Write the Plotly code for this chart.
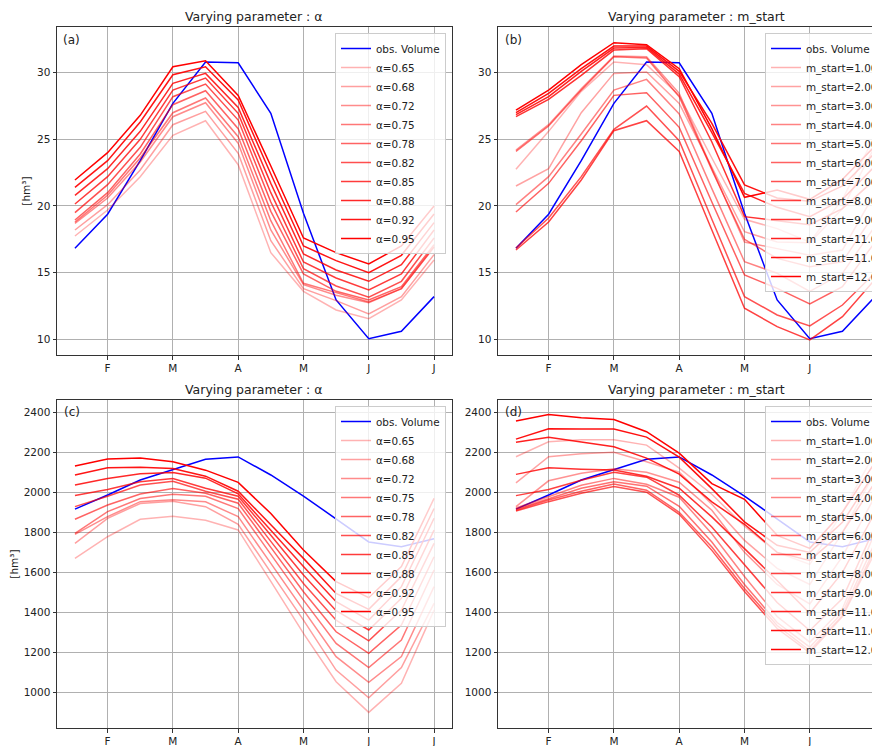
import plotly.graph_objects as go

# half-month time steps (mid Jan .. Jul)
steps = list(range(12))
month_ticks = [1, 3, 5, 7, 9, 11]
month_labels = ["F", "M", "A", "M", "J", "J"]

# observed series
obs_top = [16.83, 19.38, 23.4, 27.7, 30.8, 30.75, 26.95, 19.45, 12.95, 10.05, 10.6, 13.2]
obs_bottom = [1916, 1986, 2061, 2114, 2164, 2176, 2086, 1981, 1865, 1752, 1728, 1768]

alpha_values = ["0.65", "0.68", "0.72", "0.75", "0.78", "0.82", "0.85", "0.88", "0.92", "0.95"]
m_start_values = ["1.00", "2.00", "3.00", "4.00", "5.00", "6.00", "7.00", "8.00", "9.00", "11.00", "11.00", "12.00"]

# (a) varying alpha, top variable
sim_a = [
    [17.75, 19.7, 22.2, 25.3, 26.4, 23.1, 16.5, 13.6, 12.2, 11.55, 12.95, 15.95],
    [18.2, 20.1, 22.7, 26.1, 27.1, 23.95, 17.4, 13.8, 12.9, 11.9, 13.2, 16.35],
    [18.7, 20.6, 23.3, 26.7, 27.75, 24.7, 18.2, 14.1, 13.3, 12.75, 13.8, 16.9],
    [18.8, 20.8, 23.6, 27.0, 28.1, 25.2, 18.9, 14.2, 13.5, 12.8, 13.8, 16.95],
    [18.95, 21.0, 23.9, 27.6, 28.65, 25.8, 19.6, 14.9, 13.6, 12.95, 13.95, 17.1],
    [19.5, 21.6, 24.4, 28.2, 29.15, 26.45, 20.3, 15.3, 14.0, 13.15, 14.35, 17.6],
    [20.15, 22.2, 25.0, 28.7, 29.6, 26.95, 21.0, 15.8, 14.6, 13.7, 14.9, 18.2],
    [20.8, 22.8, 25.6, 29.2, 29.95, 27.4, 21.7, 16.4, 15.2, 14.35, 15.6, 18.75],
    [21.4, 23.4, 26.3, 29.85, 30.45, 27.95, 22.4, 17.0, 15.9, 15.0, 16.3, 19.4],
    [21.95, 24.0, 26.8, 30.45, 30.9, 28.3, 23.0, 17.6, 16.5, 15.65, 17.0, 20.0],
]

# (b) varying m_start, top variable
sim_b = [
    [22.75, 25.6, 28.6, 30.8, 30.6, 28.3, 23.6, 19.0, 18.3, 17.3, 20.5, 25.3],
    [21.5, 22.8, 27.0, 29.95, 30.05, 27.7, 22.9, 18.07, 17.3, 17.25, 19.8, 24.5],
    [24.2, 26.1, 28.8, 31.25, 31.2, 28.45, 22.8, 17.3, 16.8, 16.3, 16.7, 21.0],
    [20.1, 22.2, 25.4, 28.7, 29.5, 26.9, 21.3, 15.82, 14.95, 13.6, 14.95, 18.5],
    [24.1, 26.0, 28.7, 31.2, 31.1, 28.2, 22.7, 17.5, 16.07, 15.45, 15.82, 19.5],
    [19.55, 21.7, 24.9, 28.3, 28.5, 25.9, 20.3, 14.82, 13.82, 12.65, 13.95, 17.3],
    [16.85, 19.1, 22.2, 25.75, 27.5, 24.9, 19.0, 13.2, 11.82, 11.0, 12.57, 15.0],
    [16.7, 18.8, 21.95, 25.65, 26.4, 24.1, 18.2, 12.33, 10.95, 9.95, 11.7, 14.5],
    [26.7, 28.0, 29.8, 31.7, 31.8, 29.7, 24.8, 19.2, 18.9, 18.6, 19.8, 22.0],
    [26.85, 28.2, 30.1, 31.85, 31.9, 29.9, 25.5, 20.95, 19.9, 19.2, 20.5, 23.0],
    [27.0, 28.45, 30.3, 32.0, 32.0, 30.1, 26.2, 21.58, 20.6, 20.35, 21.5, 24.0],
    [27.2, 28.7, 30.6, 32.25, 32.1, 30.3, 25.8, 20.65, 21.2, 20.5, 22.0, 24.5],
]

# (c) varying alpha, bottom variable
sim_c = [
    [1670, 1778, 1865, 1880, 1860, 1812, 1555, 1296, 1055, 902, 1047, 1412],
    [1745, 1870, 1944, 1955, 1928, 1840, 1600, 1362, 1113, 975, 1125, 1446],
    [1790, 1878, 1953, 1962, 1952, 1878, 1645, 1412, 1180, 1052, 1180, 1529],
    [1795, 1903, 1969, 1990, 1980, 1918, 1690, 1462, 1246, 1125, 1263, 1612],
    [1865, 1936, 1991, 2018, 1995, 1945, 1725, 1504, 1304, 1196, 1338, 1678],
    [1928, 1980, 2036, 2055, 2005, 1965, 1755, 1545, 1362, 1259, 1412, 1745],
    [1984, 2014, 2052, 2068, 2020, 1980, 1785, 1587, 1409, 1313, 1471, 1811],
    [2036, 2069, 2092, 2098, 2070, 1992, 1810, 1629, 1454, 1362, 1529, 1870],
    [2086, 2122, 2124, 2118, 2080, 2005, 1838, 1670, 1495, 1416, 1579, 1919],
    [2131, 2166, 2171, 2152, 2110, 2049, 1894, 1712, 1554, 1474, 1629, 1969],
]

# (d) varying m_start, bottom variable
sim_d = [
    [2177, 2252, 2262, 2262, 2235, 2120, 1990, 1830, 1700, 1640, 1900, 2200],
    [2047, 2177, 2192, 2199, 2152, 2100, 1940, 1760, 1620, 1540, 1800, 2100],
    [1928, 2057, 2095, 2117, 2100, 2050, 1910, 1700, 1540, 1443, 1680, 1980],
    [1921, 1978, 2035, 2069, 2040, 1975, 1793, 1580, 1380, 1252, 1420, 1800],
    [1915, 1969, 2020, 2052, 2030, 1930, 1752, 1540, 1350, 1227, 1400, 1750],
    [1910, 1961, 2005, 2041, 2010, 1900, 1727, 1520, 1335, 1210, 1385, 1720],
    [1906, 1953, 1995, 2028, 2000, 1890, 1710, 1505, 1320, 1200, 1380, 1700],
    [1983, 2014, 2060, 2099, 2075, 1985, 1827, 1640, 1450, 1310, 1470, 1830],
    [2089, 2122, 2115, 2111, 2080, 2020, 1877, 1720, 1560, 1396, 1600, 1900],
    [2249, 2274, 2250, 2227, 2170, 2090, 1952, 1840, 1700, 1660, 1800, 2050],
    [2265, 2317, 2315, 2315, 2275, 2175, 2018, 1852, 1735, 1700, 1850, 2100],
    [2355, 2388, 2372, 2363, 2302, 2195, 2043, 1965, 1785, 1720, 1900, 2150],
]

FONT = "DejaVu Sans"

# the page puts the figure 8px in from the top-left corner
OFF = 8
W, H = 880 - OFF, 746 - OFF


def px(x):
    return (x - OFF) / W


def py(y):
    return 1 - (y - OFF) / H


fig = go.Figure()

panels = [
    ("x", "y", "legend", obs_top, sim_a, "α=", alpha_values),
    ("x2", "y2", "legend2", obs_top, sim_b, "m_start=", m_start_values),
    ("x3", "y3", "legend3", obs_bottom, sim_c, "α=", alpha_values),
    ("x4", "y4", "legend4", obs_bottom, sim_d, "m_start=", m_start_values),
]

for xa, ya, leg, obs, sims, prefix, labels in panels:
    fig.add_trace(go.Scatter(x=steps, y=obs, mode="lines", name="obs. Volume",
                             line=dict(color="#0000ff", width=1.5),
                             xaxis=xa, yaxis=ya, legend=leg))
    n = len(sims)
    for i, (vals, lab) in enumerate(zip(sims, labels)):
        a = 0.3 + 0.7 * i / (n - 1)
        fig.add_trace(go.Scatter(x=steps, y=vals, mode="lines", name=prefix + lab,
                                 line=dict(color="rgba(255,0,0,%.3f)" % a, width=1.5),
                                 xaxis=xa, yaxis=ya, legend=leg))

ax = dict(showline=True, linecolor="#333333", linewidth=1, ticks="outside", ticklen=3.5,
          tickcolor="#333333", showgrid=True, gridcolor="#b0b0b0", gridwidth=0.8,
          zeroline=False, tickfont=dict(size=10.5, color="#222222"))

xa = dict(ax, tickmode="array", tickvals=month_ticks, ticktext=month_labels, mirror=True)
ytitle = dict(text="[hm³]", font=dict(size=10.5, color="#222222"), standoff=4)

leg = dict(bgcolor="rgba(255,255,255,0.8)", bordercolor="#cccccc", borderwidth=1,
           font=dict(size=10.4, family=FONT, color="#222222"), itemwidth=30,
           yanchor="top")

top_dom = [py(355), py(27)]
bot_dom = [py(728), py(400)]
left_dom = [px(57), px(452)]
right_dom = [px(498), 1.0]

fig.update_layout(
    width=W, height=H,
    margin=dict(l=0, r=0, t=0, b=0, autoexpand=False),
    paper_bgcolor="white", plot_bgcolor="white",
    font=dict(family=FONT, color="#222222"),
    showlegend=True,
    xaxis=dict(xa, domain=left_dom, range=[-0.55, 11.55], anchor="y"),
    xaxis2=dict(xa, domain=right_dom, range=[-0.55, 11.15], anchor="y2"),
    xaxis3=dict(xa, domain=left_dom, range=[-0.55, 11.55], anchor="y3"),
    xaxis4=dict(xa, domain=right_dom, range=[-0.55, 11.15], anchor="y4"),
    yaxis=dict(ax, domain=top_dom, range=[8.82, 33.43], dtick=5, mirror=True,
               anchor="x", title=ytitle),
    yaxis2=dict(ax, domain=top_dom, range=[8.82, 33.43], dtick=5, anchor="x2"),
    yaxis3=dict(ax, domain=bot_dom, range=[824, 2460], dtick=200, mirror=True,
                anchor="x3", title=ytitle),
    yaxis4=dict(ax, domain=bot_dom, range=[824, 2460], dtick=200, anchor="x4"),
    legend=dict(leg, x=px(446), y=py(33), xanchor="right"),
    legend2=dict(leg, x=px(765), y=py(33), xanchor="left"),
    legend3=dict(leg, x=px(446), y=py(406), xanchor="right"),
    legend4=dict(leg, x=px(765), y=py(406), xanchor="left"),
)

titles = [
    ("Varying parameter : α", 254, 16.7),
    ("Varying parameter : m_start", 696, 16.7),
    ("Varying parameter : α", 254, 389.3),
    ("Varying parameter : m_start", 696, 389.3),
]
for text, tx, ty in titles:
    fig.add_annotation(text=text, x=px(tx), y=py(ty), xref="paper", yref="paper",
                       xanchor="center", yanchor="middle", showarrow=False,
                       font=dict(size=12.5, color="#222222"))

tags = [("(a)", 61, 40), ("(b)", 502.7, 40), ("(c)", 61.7, 412.3), ("(d)", 502.7, 412.3)]
for text, tx, ty in tags:
    fig.add_annotation(text=text, x=px(tx), y=py(ty), xref="paper", yref="paper",
                       xanchor="left", yanchor="middle", showarrow=False,
                       font=dict(size=12, color="#222222"))

fig.write_html("out.html")
